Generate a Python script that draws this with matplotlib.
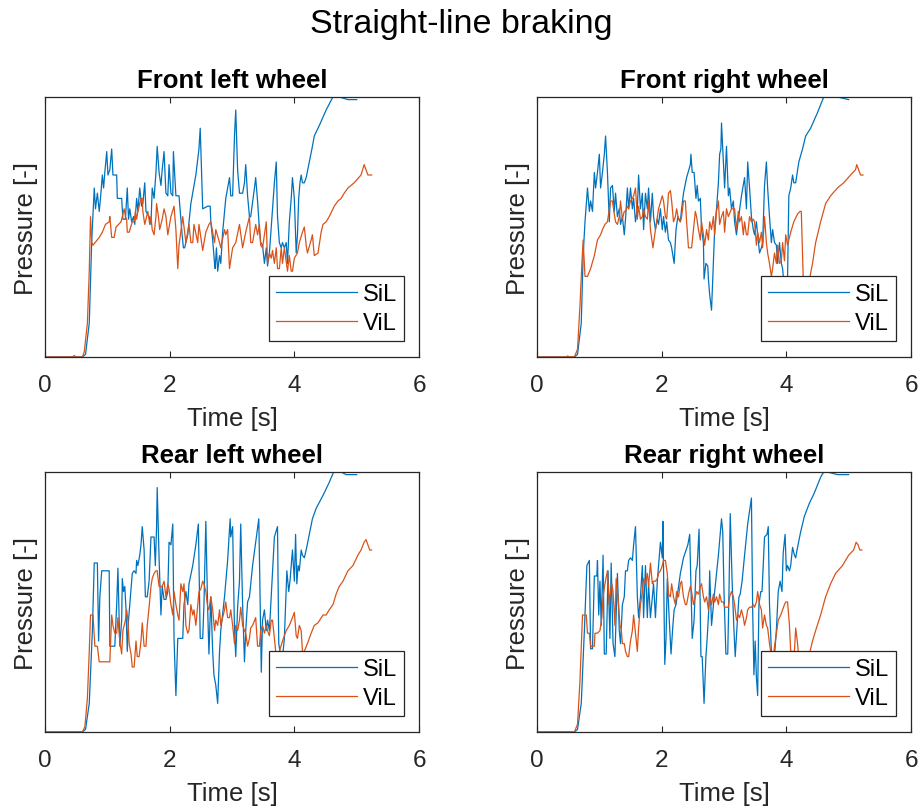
import matplotlib
matplotlib.use('Agg')
import matplotlib.pyplot as plt

plt.rcParams['font.family'] = ['Liberation Sans', 'DejaVu Sans']

'''data (pressure normalised, read off the picture)'''
fl_sil_t = [0.00, 0.60, 0.65, 0.71, 0.75, 0.79, 0.81, 0.84, 0.87, 0.89, 0.92, 0.94, 0.96, 0.99, 1.01, 1.04, 1.07, 1.09, 1.15, 1.16,
            1.23, 1.25, 1.29, 1.32, 1.34, 1.36, 1.39, 1.42, 1.44, 1.47, 1.49, 1.52, 1.55, 1.57, 1.60, 1.62, 1.67, 1.70, 1.72, 1.75,
            1.78, 1.80, 1.83, 1.86, 1.88, 1.91, 1.94, 1.97, 1.99, 2.02, 2.05, 2.06, 2.10, 2.15, 2.20, 2.22, 2.24, 2.29, 2.34, 2.42,
            2.47, 2.49, 2.53, 2.61, 2.65, 2.66, 2.69, 2.72, 2.73, 2.75, 2.77, 2.80, 2.82, 2.85, 2.90, 2.96, 2.98, 3.01, 3.04, 3.06,
            3.09, 3.12, 3.17, 3.20, 3.22, 3.25, 3.28, 3.30, 3.36, 3.38, 3.41, 3.44, 3.46, 3.49, 3.52, 3.55, 3.57, 3.60, 3.65, 3.68,
            3.71, 3.73, 3.76, 3.79, 3.81, 3.84, 3.87, 3.89, 3.92, 3.95, 3.97, 4.00, 4.03, 4.05, 4.07, 4.09, 4.11, 4.13, 4.16, 4.19,
            4.24, 4.29, 4.32, 4.40, 4.51, 4.62, 4.64, 4.72, 4.86, 5.00]
fl_sil_p = [0.00, 0.00, 0.01, 0.13, 0.45, 0.65, 0.57, 0.63, 0.56, 0.61, 0.70, 0.65, 0.71, 0.79, 0.70, 0.72, 0.80, 0.70, 0.70, 0.61,
            0.61, 0.53, 0.53, 0.65, 0.53, 0.57, 0.52, 0.54, 0.51, 0.61, 0.56, 0.65, 0.58, 0.59, 0.67, 0.56, 0.54, 0.51, 0.65, 0.61,
            0.71, 0.81, 0.71, 0.66, 0.72, 0.79, 0.63, 0.62, 0.74, 0.63, 0.62, 0.79, 0.62, 0.62, 0.47, 0.42, 0.42, 0.47, 0.59, 0.70,
            0.80, 0.88, 0.57, 0.58, 0.58, 0.52, 0.45, 0.36, 0.34, 0.42, 0.33, 0.39, 0.36, 0.48, 0.61, 0.69, 0.62, 0.62, 0.85, 0.95,
            0.72, 0.63, 0.63, 0.67, 0.74, 0.62, 0.54, 0.54, 0.65, 0.69, 0.60, 0.49, 0.44, 0.43, 0.36, 0.42, 0.35, 0.40, 0.57, 0.67,
            0.75, 0.54, 0.44, 0.42, 0.44, 0.42, 0.44, 0.36, 0.52, 0.61, 0.69, 0.61, 0.40, 0.47, 0.61, 0.67, 0.70, 0.67, 0.67, 0.69,
            0.75, 0.81, 0.85, 0.89, 0.95, 1.00, 1.01, 1.00, 0.99, 0.99]
fl_vil_t = [0.00, 0.44, 0.47, 0.49, 0.60, 0.63, 0.68, 0.71, 0.73, 0.75, 0.77, 0.87, 0.92, 0.97, 1.03, 1.04, 1.07, 1.11, 1.14, 1.22,
            1.24, 1.27, 1.29, 1.31, 1.32, 1.35, 1.40, 1.43, 1.45, 1.47, 1.49, 1.51, 1.54, 1.56, 1.57, 1.60, 1.63, 1.65, 1.68, 1.70,
            1.72, 1.75, 1.78, 1.79, 1.82, 1.84, 1.88, 1.91, 1.94, 1.97, 2.02, 2.07, 2.10, 2.13, 2.15, 2.21, 2.26, 2.31, 2.34, 2.37,
            2.39, 2.45, 2.47, 2.53, 2.58, 2.63, 2.66, 2.72, 2.74, 2.80, 2.82, 2.88, 2.90, 2.93, 2.96, 3.01, 3.06, 3.12, 3.17, 3.22,
            3.28, 3.30, 3.33, 3.38, 3.41, 3.44, 3.46, 3.49, 3.55, 3.57, 3.60, 3.63, 3.65, 3.68, 3.71, 3.73, 3.76, 3.79, 3.81, 3.84,
            3.89, 3.92, 3.95, 3.97, 4.00, 4.05, 4.08, 4.13, 4.16, 4.19, 4.21, 4.27, 4.29, 4.32, 4.38, 4.43, 4.46, 4.51, 4.56, 4.64,
            4.70, 4.75, 4.80, 4.86, 4.96, 5.07, 5.12, 5.15, 5.18, 5.24]
fl_vil_p = [0.00, 0.00, 0.006, 0.00, 0.00, 0.02, 0.13, 0.33, 0.54, 0.44, 0.43, 0.46, 0.48, 0.51, 0.52, 0.54, 0.46, 0.46, 0.50, 0.52,
            0.54, 0.57, 0.54, 0.53, 0.48, 0.48, 0.52, 0.52, 0.56, 0.53, 0.56, 0.58, 0.61, 0.61, 0.56, 0.51, 0.54, 0.56, 0.51, 0.54,
            0.49, 0.47, 0.54, 0.59, 0.54, 0.49, 0.53, 0.57, 0.54, 0.47, 0.54, 0.58, 0.49, 0.34, 0.43, 0.54, 0.44, 0.51, 0.44, 0.44,
            0.51, 0.44, 0.51, 0.41, 0.48, 0.51, 0.52, 0.44, 0.49, 0.44, 0.42, 0.49, 0.47, 0.49, 0.34, 0.42, 0.44, 0.51, 0.42, 0.48,
            0.54, 0.44, 0.44, 0.51, 0.47, 0.51, 0.43, 0.42, 0.52, 0.36, 0.40, 0.38, 0.41, 0.36, 0.42, 0.34, 0.34, 0.42, 0.36, 0.42,
            0.33, 0.39, 0.33, 0.33, 0.38, 0.40, 0.44, 0.48, 0.50, 0.43, 0.40, 0.45, 0.47, 0.39, 0.40, 0.48, 0.51, 0.52, 0.54, 0.58,
            0.60, 0.61, 0.63, 0.65, 0.67, 0.70, 0.74, 0.72, 0.70, 0.70]

fr_sil_t = [0.00, 0.60, 0.65, 0.71, 0.74, 0.77, 0.81, 0.84, 0.86, 0.89, 0.92, 0.94, 0.97, 1.00, 1.02, 1.05, 1.08, 1.10, 1.13, 1.16,
            1.18, 1.21, 1.24, 1.26, 1.29, 1.32, 1.34, 1.37, 1.40, 1.42, 1.45, 1.47, 1.50, 1.53, 1.55, 1.58, 1.61, 1.63, 1.66, 1.69,
            1.71, 1.74, 1.77, 1.79, 1.82, 1.85, 1.87, 1.90, 1.93, 1.95, 1.98, 2.01, 2.03, 2.06, 2.08, 2.11, 2.14, 2.16, 2.20, 2.23,
            2.26, 2.30, 2.32, 2.35, 2.40, 2.46, 2.47, 2.49, 2.52, 2.55, 2.57, 2.59, 2.62, 2.64, 2.67, 2.68, 2.71, 2.74, 2.75, 2.77,
            2.80, 2.83, 2.85, 2.88, 2.91, 2.93, 2.95, 2.96, 2.99, 3.01, 3.04, 3.07, 3.09, 3.12, 3.15, 3.17, 3.20, 3.23, 3.28, 3.33,
            3.36, 3.38, 3.41, 3.44, 3.47, 3.49, 3.52, 3.54, 3.57, 3.60, 3.62, 3.65, 3.68, 3.70, 3.73, 3.76, 3.78, 3.81, 3.84, 3.86,
            3.89, 3.92, 3.94, 3.97, 3.99, 4.02, 4.04, 4.07, 4.10, 4.12, 4.15, 4.20, 4.26, 4.31, 4.39, 4.50, 4.60, 4.63, 4.82, 5.00]
fr_sil_p = [0.00, 0.00, 0.01, 0.13, 0.39, 0.52, 0.65, 0.56, 0.60, 0.56, 0.71, 0.65, 0.71, 0.78, 0.65, 0.71, 0.78, 0.85, 0.71, 0.52,
            0.65, 0.66, 0.56, 0.63, 0.54, 0.57, 0.51, 0.54, 0.47, 0.53, 0.65, 0.57, 0.65, 0.57, 0.61, 0.52, 0.57, 0.70, 0.57, 0.63,
            0.49, 0.63, 0.57, 0.65, 0.52, 0.63, 0.54, 0.49, 0.53, 0.51, 0.57, 0.49, 0.54, 0.48, 0.52, 0.45, 0.44, 0.42, 0.36, 0.49,
            0.54, 0.52, 0.57, 0.63, 0.69, 0.74, 0.78, 0.71, 0.71, 0.61, 0.66, 0.60, 0.61, 0.49, 0.44, 0.30, 0.36, 0.35, 0.30, 0.24,
            0.18, 0.36, 0.49, 0.57, 0.67, 0.78, 0.80, 0.90, 0.75, 0.65, 0.81, 0.62, 0.65, 0.57, 0.60, 0.52, 0.47, 0.53, 0.62, 0.69,
            0.57, 0.75, 0.65, 0.54, 0.49, 0.47, 0.52, 0.47, 0.40, 0.42, 0.44, 0.66, 0.75, 0.65, 0.54, 0.44, 0.49, 0.44, 0.43, 0.36,
            0.44, 0.36, 0.34, 0.26, 0.16, 0.31, 0.62, 0.65, 0.70, 0.67, 0.67, 0.75, 0.80, 0.85, 0.88, 0.94, 1.00, 1.01, 1.00, 0.99]
fr_vil_t = [0.00, 0.47, 0.49, 0.52, 0.60, 0.65, 0.69, 0.72, 0.74, 0.77, 0.81, 0.86, 0.92, 0.97, 1.02, 1.05, 1.09, 1.13, 1.18, 1.21,
            1.24, 1.26, 1.29, 1.32, 1.34, 1.37, 1.40, 1.42, 1.45, 1.47, 1.50, 1.53, 1.55, 1.58, 1.61, 1.63, 1.66, 1.69, 1.71, 1.74,
            1.77, 1.79, 1.82, 1.86, 1.90, 1.95, 2.01, 2.03, 2.06, 2.08, 2.11, 2.14, 2.16, 2.19, 2.22, 2.24, 2.27, 2.30, 2.32, 2.35,
            2.38, 2.40, 2.43, 2.48, 2.51, 2.54, 2.56, 2.59, 2.62, 2.64, 2.67, 2.69, 2.72, 2.75, 2.77, 2.80, 2.83, 2.85, 2.88, 2.91,
            2.93, 2.96, 2.99, 3.01, 3.04, 3.07, 3.12, 3.17, 3.20, 3.23, 3.25, 3.28, 3.31, 3.33, 3.36, 3.38, 3.41, 3.44, 3.47, 3.49,
            3.52, 3.54, 3.57, 3.60, 3.62, 3.65, 3.68, 3.70, 3.73, 3.76, 3.78, 3.81, 3.84, 3.86, 3.89, 3.92, 3.94, 3.97, 3.99, 4.02,
            4.07, 4.12, 4.18, 4.22, 4.24, 4.27, 4.32, 4.38, 4.42, 4.47, 4.55, 4.63, 4.71, 4.82, 4.92, 5.03, 5.11, 5.13, 5.16, 5.19,
            5.23]
fr_vil_p = [0.00, 0.00, 0.004, 0.00, 0.00, 0.03, 0.20, 0.36, 0.45, 0.31, 0.31, 0.34, 0.39, 0.45, 0.47, 0.49, 0.51, 0.52, 0.60, 0.60,
            0.55, 0.52, 0.51, 0.54, 0.60, 0.53, 0.56, 0.56, 0.58, 0.57, 0.60, 0.61, 0.62, 0.65, 0.53, 0.58, 0.53, 0.54, 0.57, 0.54,
            0.53, 0.60, 0.49, 0.42, 0.49, 0.57, 0.62, 0.60, 0.54, 0.53, 0.63, 0.64, 0.60, 0.52, 0.54, 0.57, 0.53, 0.52, 0.54, 0.60,
            0.60, 0.52, 0.42, 0.42, 0.49, 0.56, 0.54, 0.49, 0.45, 0.52, 0.47, 0.43, 0.49, 0.45, 0.52, 0.49, 0.54, 0.47, 0.56, 0.60,
            0.51, 0.54, 0.56, 0.48, 0.57, 0.54, 0.57, 0.57, 0.49, 0.56, 0.52, 0.54, 0.47, 0.52, 0.47, 0.47, 0.54, 0.52, 0.53, 0.52,
            0.43, 0.48, 0.44, 0.48, 0.42, 0.54, 0.44, 0.40, 0.36, 0.31, 0.34, 0.40, 0.36, 0.43, 0.36, 0.37, 0.44, 0.37, 0.47, 0.43,
            0.48, 0.52, 0.55, 0.56, 0.56, 0.31, 0.22, 0.31, 0.36, 0.44, 0.52, 0.59, 0.62, 0.65, 0.67, 0.70, 0.72, 0.74, 0.72, 0.70,
            0.70]

rl_sil_t = [0.00, 0.60, 0.65, 0.71, 0.76, 0.79, 0.84, 0.86, 0.88, 0.91, 1.03, 1.04, 1.12, 1.15, 1.17, 1.20, 1.23, 1.24, 1.26, 1.28,
            1.30, 1.32, 1.34, 1.36, 1.40, 1.43, 1.46, 1.47, 1.49, 1.52, 1.54, 1.56, 1.59, 1.61, 1.64, 1.67, 1.70, 1.75, 1.77, 1.79,
            1.80, 1.83, 1.86, 1.88, 1.91, 1.94, 1.97, 1.99, 2.02, 2.05, 2.07, 2.10, 2.13, 2.15, 2.21, 2.23, 2.26, 2.29, 2.31, 2.37,
            2.42, 2.46, 2.49, 2.53, 2.55, 2.58, 2.61, 2.63, 2.66, 2.69, 2.71, 2.74, 2.77, 2.80, 2.82, 2.88, 2.93, 2.97, 2.98, 3.01,
            3.04, 3.06, 3.09, 3.12, 3.14, 3.17, 3.20, 3.22, 3.25, 3.28, 3.33, 3.38, 3.43, 3.45, 3.47, 3.49, 3.52, 3.55, 3.57, 3.60,
            3.65, 3.68, 3.73, 3.75, 3.77, 3.80, 3.84, 3.88, 3.91, 3.93, 3.97, 4.00, 4.02, 4.04, 4.06, 4.08, 4.11, 4.13, 4.16, 4.19,
            4.24, 4.29, 4.35, 4.46, 4.56, 4.63, 4.67, 4.83, 5.00]
rl_sil_p = [0.00, 0.00, 0.01, 0.11, 0.39, 0.65, 0.65, 0.35, 0.52, 0.62, 0.62, 0.33, 0.33, 0.49, 0.63, 0.33, 0.43, 0.59, 0.54, 0.56,
            0.47, 0.31, 0.43, 0.49, 0.61, 0.62, 0.61, 0.66, 0.64, 0.68, 0.72, 0.79, 0.70, 0.52, 0.52, 0.58, 0.75, 0.75, 0.64, 0.79,
            0.94, 0.67, 0.45, 0.56, 0.51, 0.51, 0.54, 0.73, 0.72, 0.80, 0.36, 0.14, 0.36, 0.36, 0.36, 0.49, 0.54, 0.49, 0.57, 0.64,
            0.72, 0.80, 0.36, 0.36, 0.49, 0.81, 0.47, 0.30, 0.52, 0.31, 0.22, 0.18, 0.11, 0.31, 0.39, 0.52, 0.66, 0.82, 0.75, 0.79,
            0.39, 0.29, 0.48, 0.58, 0.80, 0.49, 0.27, 0.39, 0.50, 0.52, 0.64, 0.73, 0.82, 0.52, 0.23, 0.43, 0.47, 0.39, 0.43, 0.39,
            0.62, 0.75, 0.79, 0.34, 0.31, 0.26, 0.36, 0.62, 0.54, 0.58, 0.70, 0.58, 0.76, 0.57, 0.64, 0.62, 0.70, 0.68, 0.67, 0.70,
            0.76, 0.82, 0.86, 0.91, 0.96, 1.00, 1.01, 0.99, 0.99]
rl_vil_t = [0.00, 0.60, 0.64, 0.68, 0.71, 0.73, 0.77, 0.80, 0.84, 0.87, 1.04, 1.07, 1.09, 1.12, 1.15, 1.17, 1.20, 1.23, 1.25, 1.29,
            1.31, 1.33, 1.35, 1.38, 1.40, 1.43, 1.46, 1.48, 1.51, 1.54, 1.56, 1.59, 1.62, 1.64, 1.67, 1.70, 1.72, 1.75, 1.78, 1.80,
            1.83, 1.88, 1.91, 1.94, 1.97, 1.99, 2.02, 2.05, 2.07, 2.10, 2.13, 2.15, 2.18, 2.21, 2.23, 2.26, 2.29, 2.31, 2.34, 2.37,
            2.39, 2.42, 2.45, 2.47, 2.50, 2.53, 2.55, 2.58, 2.61, 2.63, 2.66, 2.69, 2.72, 2.74, 2.77, 2.80, 2.82, 2.85, 2.88, 2.90,
            2.93, 2.96, 2.98, 3.01, 3.04, 3.06, 3.09, 3.12, 3.14, 3.17, 3.20, 3.22, 3.25, 3.28, 3.30, 3.33, 3.38, 3.41, 3.44, 3.46,
            3.49, 3.52, 3.55, 3.57, 3.60, 3.63, 3.65, 3.68, 3.71, 3.76, 3.81, 3.87, 3.92, 3.97, 4.00, 4.03, 4.05, 4.08, 4.11, 4.13,
            4.16, 4.21, 4.27, 4.32, 4.38, 4.46, 4.51, 4.56, 4.62, 4.67, 4.72, 4.78, 4.86, 4.94, 5.02, 5.07, 5.12, 5.15, 5.18, 5.21,
            5.24]
rl_vil_p = [0.00, 0.00, 0.02, 0.13, 0.31, 0.45, 0.45, 0.33, 0.33, 0.27, 0.27, 0.45, 0.41, 0.38, 0.38, 0.44, 0.35, 0.30, 0.39, 0.43,
            0.47, 0.43, 0.34, 0.30, 0.25, 0.25, 0.35, 0.29, 0.29, 0.35, 0.42, 0.33, 0.33, 0.41, 0.48, 0.56, 0.59, 0.61, 0.62, 0.62,
            0.56, 0.56, 0.58, 0.52, 0.57, 0.55, 0.49, 0.45, 0.54, 0.49, 0.45, 0.43, 0.57, 0.54, 0.57, 0.41, 0.38, 0.39, 0.49, 0.45,
            0.47, 0.41, 0.49, 0.54, 0.55, 0.58, 0.57, 0.54, 0.48, 0.47, 0.52, 0.47, 0.39, 0.43, 0.41, 0.47, 0.41, 0.44, 0.47, 0.50,
            0.44, 0.44, 0.47, 0.41, 0.34, 0.41, 0.39, 0.43, 0.48, 0.41, 0.39, 0.38, 0.33, 0.36, 0.40, 0.41, 0.44, 0.33, 0.33, 0.39,
            0.41, 0.38, 0.41, 0.39, 0.37, 0.43, 0.43, 0.36, 0.29, 0.31, 0.35, 0.39, 0.41, 0.44, 0.46, 0.37, 0.36, 0.41, 0.39, 0.31,
            0.31, 0.34, 0.38, 0.41, 0.42, 0.45, 0.45, 0.47, 0.49, 0.53, 0.56, 0.58, 0.62, 0.64, 0.68, 0.70, 0.73, 0.74, 0.72, 0.70,
            0.70]

rr_sil_t = [0.00, 0.60, 0.65, 0.71, 0.76, 0.80, 0.84, 0.86, 0.89, 0.92, 0.96, 0.97, 0.99, 1.01, 1.03, 1.06, 1.08, 1.11, 1.14, 1.17,
            1.19, 1.22, 1.25, 1.27, 1.29, 1.32, 1.34, 1.37, 1.40, 1.42, 1.45, 1.47, 1.50, 1.53, 1.55, 1.58, 1.61, 1.63, 1.66, 1.69,
            1.71, 1.74, 1.77, 1.79, 1.82, 1.85, 1.87, 1.90, 1.93, 1.95, 1.98, 2.01, 2.02, 2.05, 2.07, 2.09, 2.12, 2.15, 2.18, 2.20,
            2.23, 2.26, 2.30, 2.35, 2.42, 2.45, 2.47, 2.49, 2.52, 2.55, 2.57, 2.60, 2.63, 2.65, 2.68, 2.71, 2.73, 2.76, 2.77, 2.80,
            2.83, 2.85, 2.91, 2.96, 2.98, 3.00, 3.03, 3.06, 3.08, 3.10, 3.13, 3.16, 3.18, 3.21, 3.24, 3.26, 3.29, 3.33, 3.38, 3.44,
            3.46, 3.48, 3.50, 3.52, 3.54, 3.56, 3.59, 3.61, 3.65, 3.69, 3.71, 3.73, 3.76, 3.80, 3.84, 3.87, 3.90, 3.93, 3.95, 3.98,
            4.00, 4.02, 4.05, 4.07, 4.10, 4.13, 4.15, 4.18, 4.23, 4.29, 4.37, 4.45, 4.55, 4.60, 4.66, 4.82, 5.00]
rr_sil_p = [0.00, 0.00, 0.01, 0.11, 0.39, 0.64, 0.66, 0.32, 0.32, 0.60, 0.60, 0.66, 0.45, 0.58, 0.41, 0.68, 0.30, 0.30, 0.62, 0.36,
            0.65, 0.34, 0.29, 0.45, 0.61, 0.39, 0.34, 0.49, 0.52, 0.62, 0.62, 0.66, 0.67, 0.66, 0.72, 0.79, 0.52, 0.44, 0.52, 0.64,
            0.44, 0.64, 0.44, 0.57, 0.44, 0.52, 0.57, 0.44, 0.58, 0.64, 0.73, 0.67, 0.81, 0.26, 0.36, 0.59, 0.44, 0.30, 0.41, 0.47,
            0.49, 0.54, 0.61, 0.67, 0.72, 0.76, 0.56, 0.36, 0.43, 0.62, 0.64, 0.78, 0.29, 0.29, 0.11, 0.29, 0.36, 0.49, 0.62, 0.41,
            0.49, 0.54, 0.68, 0.82, 0.77, 0.54, 0.30, 0.30, 0.54, 0.84, 0.58, 0.39, 0.29, 0.41, 0.52, 0.53, 0.58, 0.68, 0.80, 0.90,
            0.47, 0.22, 0.35, 0.21, 0.14, 0.49, 0.54, 0.54, 0.75, 0.76, 0.79, 0.49, 0.31, 0.26, 0.39, 0.54, 0.58, 0.54, 0.69, 0.76,
            0.62, 0.64, 0.62, 0.64, 0.71, 0.68, 0.67, 0.71, 0.77, 0.83, 0.88, 0.92, 0.98, 1.00, 1.00, 0.99, 0.99]
rr_vil_t = [0.00, 0.60, 0.65, 0.69, 0.73, 0.79, 0.81, 0.84, 0.86, 0.92, 0.93, 0.97, 1.01, 1.04, 1.06, 1.09, 1.13, 1.16, 1.17, 1.20,
            1.22, 1.25, 1.27, 1.30, 1.33, 1.35, 1.37, 1.40, 1.42, 1.45, 1.47, 1.50, 1.53, 1.55, 1.58, 1.61, 1.63, 1.66, 1.69, 1.71,
            1.74, 1.77, 1.79, 1.82, 1.85, 1.87, 1.90, 1.93, 1.95, 1.98, 2.01, 2.03, 2.06, 2.09, 2.11, 2.14, 2.16, 2.19, 2.22, 2.24,
            2.27, 2.30, 2.32, 2.35, 2.38, 2.40, 2.43, 2.46, 2.48, 2.51, 2.54, 2.56, 2.59, 2.62, 2.64, 2.67, 2.69, 2.72, 2.75, 2.77,
            2.80, 2.83, 2.85, 2.88, 2.91, 2.93, 2.96, 2.99, 3.01, 3.07, 3.09, 3.12, 3.15, 3.17, 3.20, 3.23, 3.25, 3.28, 3.31, 3.33,
            3.36, 3.38, 3.41, 3.44, 3.47, 3.49, 3.52, 3.54, 3.57, 3.60, 3.62, 3.65, 3.68, 3.70, 3.73, 3.76, 3.80, 3.84, 3.87, 3.91,
            3.94, 3.97, 3.99, 4.02, 4.05, 4.07, 4.13, 4.15, 4.18, 4.21, 4.29, 4.38, 4.42, 4.47, 4.55, 4.63, 4.71, 4.79, 4.90, 5.00,
            5.08, 5.12, 5.15, 5.18, 5.21]
rr_vil_p = [0.00, 0.00, 0.03, 0.20, 0.45, 0.45, 0.38, 0.38, 0.33, 0.33, 0.38, 0.38, 0.39, 0.44, 0.52, 0.57, 0.62, 0.49, 0.52, 0.57,
            0.54, 0.41, 0.59, 0.52, 0.41, 0.40, 0.34, 0.34, 0.31, 0.29, 0.29, 0.35, 0.39, 0.45, 0.38, 0.31, 0.40, 0.49, 0.54, 0.59,
            0.57, 0.61, 0.56, 0.65, 0.57, 0.58, 0.58, 0.59, 0.61, 0.62, 0.64, 0.66, 0.66, 0.61, 0.53, 0.52, 0.57, 0.52, 0.49, 0.54,
            0.52, 0.57, 0.58, 0.52, 0.49, 0.49, 0.53, 0.56, 0.54, 0.49, 0.52, 0.54, 0.53, 0.56, 0.57, 0.52, 0.50, 0.52, 0.47, 0.52,
            0.49, 0.53, 0.50, 0.52, 0.49, 0.53, 0.50, 0.50, 0.48, 0.48, 0.52, 0.54, 0.52, 0.49, 0.43, 0.45, 0.44, 0.47, 0.44, 0.41,
            0.44, 0.47, 0.48, 0.48, 0.49, 0.48, 0.50, 0.54, 0.49, 0.47, 0.40, 0.45, 0.41, 0.40, 0.34, 0.29, 0.31, 0.38, 0.43, 0.45,
            0.47, 0.49, 0.50, 0.50, 0.41, 0.31, 0.31, 0.40, 0.34, 0.26, 0.23, 0.31, 0.35, 0.39, 0.45, 0.52, 0.57, 0.61, 0.64, 0.68,
            0.70, 0.73, 0.72, 0.70, 0.70]

titles = ['Front left wheel', 'Front right wheel', 'Rear left wheel', 'Rear right wheel']
series = [(fl_sil_t, fl_sil_p, fl_vil_t, fl_vil_p),
          (fr_sil_t, fr_sil_p, fr_vil_t, fr_vil_p),
          (rl_sil_t, rl_sil_p, rl_vil_t, rl_vil_p),
          (rr_sil_t, rr_sil_p, rr_vil_t, rr_vil_p)]

'''layout (pixel box of each axes in a 922x812 figure)'''
W, H = 922, 812
boxes = [(45, 98), (537, 98), (45, 473), (537, 473)]
aw, ah = 374, 260

fig = plt.figure(figsize=(W / 100, H / 100), dpi=100)
fig.suptitle('Straight-line braking', fontsize=24.5, y=1 - 25 / H, va='center')

dark = '#262626'
for (x0, y0), title, (st, sp, vt, vp) in zip(boxes, titles, series):
    ax = fig.add_axes([x0 / W, 1 - (y0 + ah) / H, aw / W, ah / H])
    ax.plot(st, sp, color='#0072BD', lw=0.9, label='SiL')
    ax.plot(vt, vp, color='#D95319', lw=0.9, label='ViL')
    ax.set_xlim(0, 6)
    ax.set_ylim(0, 1)
    ax.set_xticks([0, 2, 4, 6])
    ax.set_yticks([])
    ax.tick_params(axis='x', direction='in', top=True, length=4, width=0.8, colors=dark,
                   labelsize=17.5, pad=12.5)
    for s in ax.spines.values():
        s.set_color(dark)
        s.set_linewidth(0.9)
    ax.set_title(title, fontsize=18.5, fontweight='bold', pad=7)
    ax.set_xlabel('Time [s]', fontsize=18.5, color=dark, labelpad=7)
    ax.set_ylabel('Pressure [-]', fontsize=18.5, color=dark, labelpad=5)
    leg = ax.legend(loc='lower right', bbox_to_anchor=(1 - 15 / aw, 16 / ah), borderaxespad=0,
                    fontsize=17, frameon=True, fancybox=False, handlelength=3.4,
                    handletextpad=0.25, labelspacing=0.3, borderpad=0.3)
    leg.get_frame().set_edgecolor(dark)
    leg.get_frame().set_linewidth(0.9)
    leg.get_frame().set_alpha(1)

plt.savefig('out.png', dpi=100)
